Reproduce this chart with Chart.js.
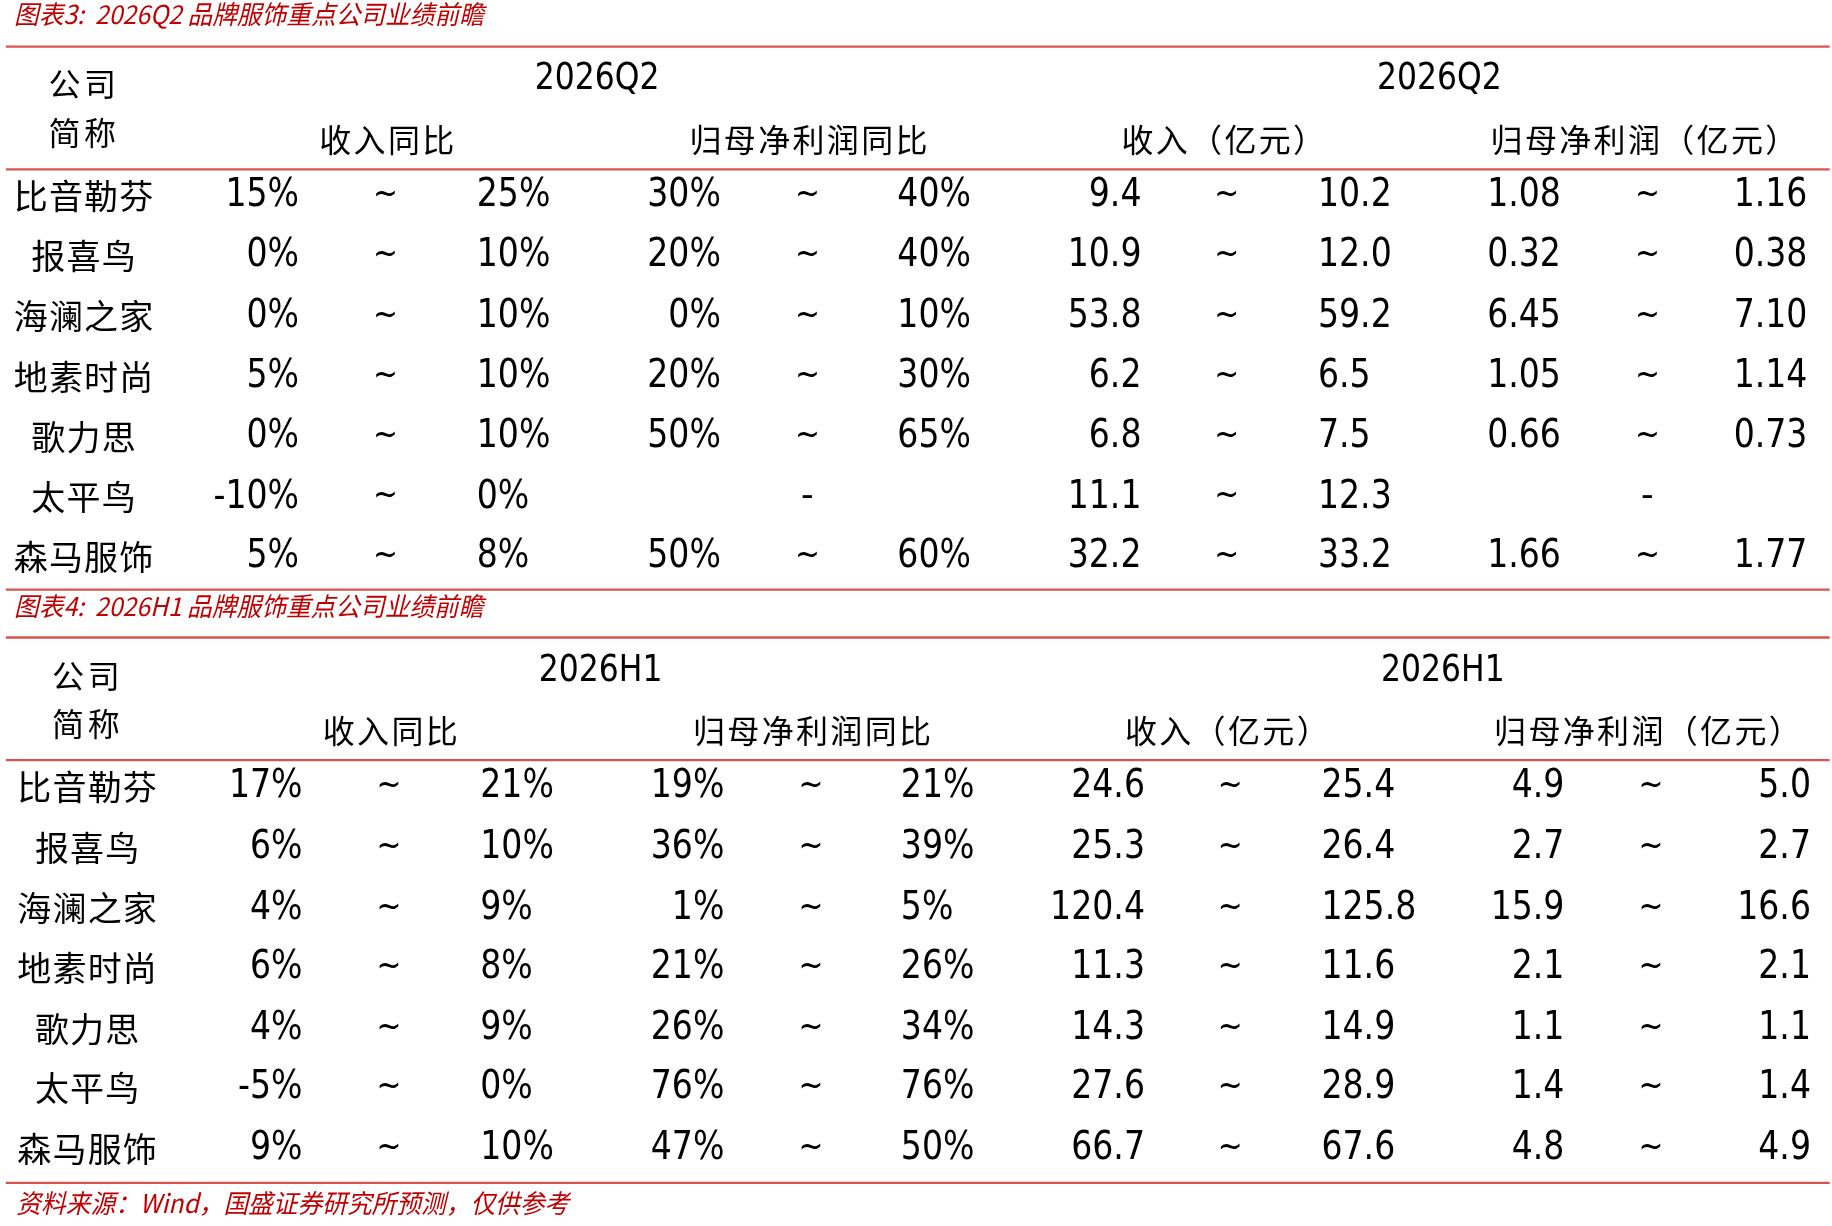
<!DOCTYPE html>
<html><head><meta charset="utf-8">
<script src="https://cdn.jsdelivr.net/npm/chart.js@4"></script>
<style>html,body{margin:0;padding:0;background:#fff}#wrap{width:1832px;height:1226px}</style>
</head><body><div id="wrap"><canvas id="c"></canvas></div>
<script>
// data
const companies = ['比音勒芬', '报喜鸟', '海澜之家', '地素时尚', '歌力思', '太平鸟', '森马服饰'];
const q2RevYoy = [['15%','25%'],['0%','10%'],['0%','10%'],['5%','10%'],['0%','10%'],['-10%','0%'],['5%','8%']];
const q2ProfitYoy = [['30%','40%'],['20%','40%'],['0%','10%'],['20%','30%'],['50%','65%'],null,['50%','60%']];
const q2Rev = [['9.4','10.2'],['10.9','12.0'],['53.8','59.2'],['6.2','6.5'],['6.8','7.5'],['11.1','12.3'],['32.2','33.2']];
const q2Profit = [['1.08','1.16'],['0.32','0.38'],['6.45','7.10'],['1.05','1.14'],['0.66','0.73'],null,['1.66','1.77']];
const h1RevYoy = [['17%','21%'],['6%','10%'],['4%','9%'],['6%','8%'],['4%','9%'],['-5%','0%'],['9%','10%']];
const h1ProfitYoy = [['19%','21%'],['36%','39%'],['1%','5%'],['21%','26%'],['26%','34%'],['76%','76%'],['47%','50%']];
const h1Rev = [['24.6','25.4'],['25.3','26.4'],['120.4','125.8'],['11.3','11.6'],['14.3','14.9'],['27.6','28.9'],['66.7','67.6']];
const h1Profit = [['4.9','5.0'],['2.7','2.7'],['15.9','16.6'],['2.1','2.1'],['1.1','1.1'],['1.4','1.4'],['4.8','4.9']];
const subHeads = ['收入同比', '归母净利润同比', '收入（亿元）', '归母净利润（亿元）'];

// layout in reference units (x 0..1568, y 0..1050)
const tables = [
  {title: '图表3:  2026Q2 品牌服饰重点公司业绩前瞻', period: '2026Q2', titleY: 12, top: 40, head: 145, bottom: 505, hy1: 68, hy2: 120,
   rows: [168, 219, 271, 323, 374, 426, 477], dx: 0, cols: [q2RevYoy, q2ProfitYoy, q2Rev, q2Profit]},
  {title: '图表4:  2026H1 品牌服饰重点公司业绩前瞻', period: '2026H1', titleY: 519, top: 546, head: 651, bottom: 1013, hy1: 575, hy2: 626,
   rows: [674, 726, 778, 829, 881, 932, 984], dx: 3, cols: [h1RevYoy, h1ProfitYoy, h1Rev, h1Profit]}
];
const groupX = [[256, 330, 408], [617, 691, 768], [977, 1050, 1128], [1336, 1410, 1547]];
const groupAlign = ['left', 'left', 'left', 'right'];
const subHeadX = [332, 693, 1048, 1408];
const periodX = [511, 1232];

const RED = '#c00000';
const LINE = '#d9534f';
const CJK = '"Noto Sans CJK SC"';
const NUM = '"DejaVu Sans", "Noto Sans"';

const tablePlugin = {
  id: 'tablePlugin',
  afterDraw(chart) {
    const ctx = chart.ctx, xs = chart.scales.x, ys = chart.scales.y;
    const X = v => xs.getPixelForValue(v), Y = v => ys.getPixelForValue(v);
    const k = (X(1000) - X(0)) / 1000;
    // squeeze: horizontal condensing factor, spacing: letter spacing in ref units
    const text = (s, x, y, font, size, align, color, squeeze = 1, spacing = 0) => {
      ctx.save();
      ctx.font = font.replace('%', Math.round(size * k) + 'px');
      ctx.letterSpacing = (spacing * k) + 'px';
      ctx.textAlign = align; ctx.textBaseline = 'middle'; ctx.fillStyle = color || '#000';
      ctx.translate(X(x), Y(y));
      ctx.scale(squeeze, 1);
      ctx.fillText(s, 0, 0);
      ctx.restore();
    };
    const hline = (y, w) => {
      ctx.strokeStyle = LINE; ctx.lineWidth = w * k;
      ctx.beginPath(); ctx.moveTo(X(5), Y(y)); ctx.lineTo(X(1566), Y(y)); ctx.stroke();
    };
    ctx.save();
    tables.forEach(t => {
      text(t.title, 12, t.titleY, 'italic % ' + CJK, 22, 'left', RED, 0.95);
      hline(t.top, 2); hline(t.head, 2); hline(t.bottom, 2);
      text('公司', 72 + t.dx, t.hy1 + 4, '% ' + CJK, 27, 'center', '#000', 1, 3);
      text('简称', 72 + t.dx, t.hy2 - 6, '% ' + CJK, 27, 'center', '#000', 1, 3);
      periodX.forEach(px => text(t.period, px + t.dx, t.hy1, '% ' + NUM, 32, 'center', '#000', 0.85));
      subHeads.forEach((s, i) => text(s, subHeadX[i] + t.dx, t.hy2, '% ' + CJK, 27, 'center', '#000', 1, 2));
      t.rows.forEach((ry, r) => {
        text(companies[r], 72 + t.dx, ry, '% ' + CJK, 29, 'center', '#000', 1, 1);
        t.cols.forEach((col, g) => {
          const gx = groupX[g];
          if (!col[r]) { text('-', gx[1] + t.dx, ry, '% ' + NUM, 30, 'center'); return; }
          text(col[r][0], gx[0] + t.dx, ry, '% ' + NUM, 33, 'right', '#000', 0.85);
          text('~', gx[1] + t.dx, ry, '% ' + NUM, 30, 'center', '#000', 0.85);
          text(col[r][1], gx[2] + t.dx, ry, '% ' + NUM, 33, groupAlign[g], '#000', 0.85);
        });
      });
    });
    text('资料来源：Wind，国盛证券研究所预测，仅供参考', 14, 1030, 'italic % ' + CJK, 22, 'left', RED, 0.95);
    ctx.restore();
  }
};

new Chart(document.getElementById('c'), {
  type: 'scatter',
  data: {datasets: [{data: []}]},
  options: {
    responsive: true, maintainAspectRatio: false, animation: false,
    layout: {padding: 0},
    plugins: {legend: {display: false}, tooltip: {enabled: false}},
    scales: {
      x: {display: false, min: 0, max: 1568},
      y: {display: false, min: 0, max: 1050, reverse: true}
    }
  },
  plugins: [tablePlugin]
});
</script></body></html>
